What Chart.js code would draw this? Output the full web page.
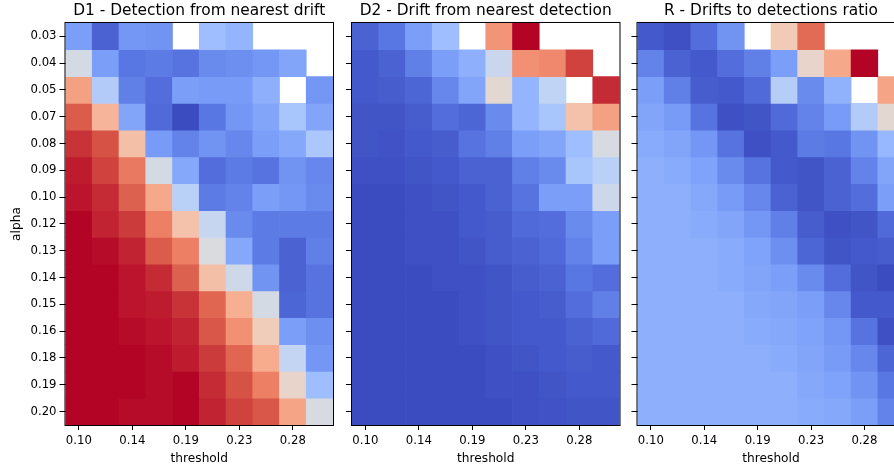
<!DOCTYPE html>
<html>
<head>
<meta charset="utf-8">
<script src="https://cdn.jsdelivr.net/npm/chart.js@4.4.0/dist/chart.umd.min.js"></script>
<style>
  html, body { margin: 0; padding: 0; background: #fff; overflow: hidden; width: 894px; height: 470px; }
  canvas { position: absolute; left: 0; top: 0; }
</style>
</head>
<body>
<canvas id="c1" width="894" height="470"></canvas>
<canvas id="c2" width="894" height="470"></canvas>
<canvas id="c3" width="920" height="470"></canvas>
<script>
// --- data ---
const alphaLabels = ["0.03", "0.04", "0.05", "0.07", "0.08", "0.09", "0.10", "0.12",
                     "0.13", "0.14", "0.15", "0.16", "0.18", "0.19", "0.20"];
const thresholdLabels = ["0.10", "0.12", "0.14", "0.17", "0.19", "0.21", "0.23", "0.26", "0.28", "0.30"];

// D1 - detection from nearest drift (null = no value)
const d1Values = [
  [0.20, 0.05, 0.18, 0.17, null, 0.30, 0.27, null, null, null],
  [0.47, 0.20, 0.10, 0.11, 0.09, 0.15, 0.16, 0.18, 0.22, null],
  [0.73, 0.36, 0.12, 0.08, 0.20, 0.19, 0.19, 0.25, null, 0.18],
  [0.88, 0.67, 0.22, 0.07, 0.00, 0.10, 0.18, 0.22, 0.33, 0.22],
  [0.94, 0.90, 0.64, 0.19, 0.13, 0.17, 0.14, 0.20, 0.23, 0.34],
  [0.97, 0.92, 0.82, 0.47, 0.23, 0.08, 0.11, 0.09, 0.17, 0.14],
  [0.98, 0.95, 0.87, 0.71, 0.38, 0.11, 0.13, 0.20, 0.18, 0.15],
  [1.00, 0.96, 0.93, 0.81, 0.63, 0.42, 0.15, 0.11, 0.11, 0.11],
  [1.00, 0.99, 0.96, 0.88, 0.81, 0.49, 0.23, 0.11, 0.05, 0.12],
  [1.00, 1.00, 0.98, 0.95, 0.87, 0.64, 0.45, 0.17, 0.05, 0.09],
  [1.00, 1.00, 0.98, 0.97, 0.94, 0.86, 0.69, 0.47, 0.06, 0.09],
  [1.00, 1.00, 0.99, 0.98, 0.96, 0.89, 0.77, 0.59, 0.20, 0.16],
  [1.00, 1.00, 1.00, 0.99, 0.97, 0.93, 0.86, 0.70, 0.41, 0.18],
  [1.00, 1.00, 1.00, 0.99, 1.00, 0.95, 0.90, 0.81, 0.55, 0.30],
  [1.00, 1.00, 0.99, 0.99, 1.00, 0.96, 0.92, 0.89, 0.72, 0.48]
];

// D2 - drift from nearest detection
const d2Values = [
  [0.05, 0.10, 0.20, 0.30, null, 0.76, 1.00, null, null, null],
  [0.03, 0.05, 0.12, 0.20, 0.25, 0.43, 0.77, 0.79, 0.92, null],
  [0.03, 0.04, 0.06, 0.14, 0.22, 0.53, 0.27, 0.40, null, 0.95],
  [0.02, 0.02, 0.04, 0.08, 0.06, 0.15, 0.27, 0.33, 0.63, 0.73],
  [0.02, 0.015, 0.03, 0.04, 0.09, 0.12, 0.20, 0.22, 0.30, 0.48],
  [0.01, 0.01, 0.02, 0.03, 0.05, 0.05, 0.12, 0.15, 0.33, 0.38],
  [0.00, 0.00, 0.01, 0.02, 0.03, 0.05, 0.09, 0.20, 0.20, 0.44],
  [0.00, 0.00, 0.01, 0.01, 0.03, 0.04, 0.07, 0.08, 0.15, 0.20],
  [0.00, 0.00, 0.01, 0.01, 0.02, 0.04, 0.05, 0.07, 0.13, 0.20],
  [0.00, 0.00, 0.00, 0.01, 0.01, 0.02, 0.04, 0.05, 0.10, 0.08],
  [0.00, 0.00, 0.00, 0.00, 0.01, 0.02, 0.03, 0.04, 0.08, 0.12],
  [0.00, 0.00, 0.00, 0.00, 0.01, 0.02, 0.03, 0.03, 0.05, 0.07],
  [0.00, 0.00, 0.00, 0.00, 0.00, 0.01, 0.02, 0.03, 0.04, 0.03],
  [0.00, 0.00, 0.00, 0.00, 0.00, 0.01, 0.01, 0.02, 0.03, 0.03],
  [0.00, 0.00, 0.00, 0.00, 0.00, 0.00, 0.01, 0.015, 0.02, 0.02]
];

// R - drifts to detections ratio
const rValues = [
  [0.03, 0.01, 0.08, 0.17, null, 0.60, 0.85, null, null, null],
  [0.13, 0.05, 0.03, 0.08, 0.12, 0.20, 0.55, 0.71, 1.00, null],
  [0.20, 0.12, 0.04, 0.03, 0.07, 0.37, 0.15, 0.26, null, 0.72],
  [0.22, 0.19, 0.09, 0.01, 0.02, 0.07, 0.13, 0.19, 0.36, 0.53],
  [0.24, 0.22, 0.18, 0.09, 0.01, 0.03, 0.11, 0.10, 0.17, 0.28],
  [0.25, 0.24, 0.21, 0.15, 0.09, 0.03, 0.02, 0.05, 0.13, 0.22],
  [0.25, 0.25, 0.23, 0.19, 0.14, 0.05, 0.02, 0.05, 0.08, 0.20],
  [0.25, 0.25, 0.24, 0.22, 0.18, 0.12, 0.04, 0.01, 0.02, 0.07],
  [0.25, 0.25, 0.25, 0.24, 0.21, 0.16, 0.06, 0.02, 0.03, 0.04],
  [0.25, 0.25, 0.25, 0.24, 0.22, 0.20, 0.15, 0.08, 0.02, 0.00],
  [0.25, 0.25, 0.25, 0.25, 0.23, 0.22, 0.20, 0.14, 0.03, 0.03],
  [0.25, 0.25, 0.25, 0.25, 0.24, 0.23, 0.21, 0.18, 0.09, 0.01],
  [0.25, 0.25, 0.25, 0.25, 0.25, 0.24, 0.22, 0.19, 0.14, 0.06],
  [0.25, 0.25, 0.25, 0.25, 0.25, 0.25, 0.23, 0.21, 0.17, 0.10],
  [0.25, 0.25, 0.25, 0.25, 0.25, 0.25, 0.24, 0.23, 0.20, 0.13]
];

// --- coolwarm colormap ---
const coolwarmStops = ["#3b4cc0", "#5977e3", "#7b9ff9", "#9ebeff", "#c0d4f5", "#dddcdc",
                       "#f2cbb7", "#f7ac8e", "#ee8468", "#d65244", "#b40426"];

const hexToRgb = (h) => [1, 3, 5].map(i => parseInt(h.slice(i, i + 2), 16));

const coolwarm = (t) => {
    t = Math.max(0, Math.min(1, t));
    var pos = t * (coolwarmStops.length - 1);
    var i = Math.min(Math.floor(pos), coolwarmStops.length - 2);
    var f = pos - i;
    var a = hexToRgb(coolwarmStops[i]), b = hexToRgb(coolwarmStops[i + 1]);
    var c = a.map((v, k) => Math.round(v + (b[k] - v) * f));
    return "rgb(" + c.join(",") + ")";
};

Chart.defaults.font.family = "'DejaVu Sans', sans-serif";
Chart.defaults.color = "#000";

const tickFont = { size: 11.7 };
const labelFont = { size: 12.2 };

// black frame round each panel
const spines = {
    id: "spines",
    afterDraw(chart) {
        const { ctx, chartArea: a } = chart;
        ctx.save();
        ctx.strokeStyle = "#000";
        ctx.lineWidth = 1;
        ctx.strokeRect(a.left - 0.5, a.top - 0.5, a.right - a.left + 1, a.bottom - a.top + 1);
        ctx.restore();
    }
};

const makePanel = (id, title, values, pad, yWidth, showY) => {
    const flat = values.flat().filter(v => v !== null);
    const vmin = Math.min(...flat), vmax = Math.max(...flat);

    // one stacked dataset per alpha row, one unit tall
    const datasets = alphaLabels.map((a, r) => ({
        label: a,
        data: thresholdLabels.map(() => 1),
        backgroundColor: values[r].map(v => v === null ? "rgba(0,0,0,0)" : coolwarm((v - vmin) / (vmax - vmin))),
        borderWidth: 0,
        barPercentage: 1,
        categoryPercentage: 1
    }));

    return new Chart(document.getElementById(id), {
        type: "bar",
        data: { labels: thresholdLabels, datasets: datasets },
        plugins: [spines],
        options: {
            responsive: false,
            animation: false,
            layout: { padding: pad },
            plugins: {
                legend: { display: false },
                tooltip: { enabled: false },
                title: {
                    display: true, text: title, fullSize: false, color: "#000",
                    font: { size: 15.4, weight: "normal" },
                    padding: { top: 2, bottom: 2.5 }
                }
            },
            scales: {
                x: {
                    type: "category", stacked: true, offset: true,
                    grid: {
                        offset: false, drawOnChartArea: false, tickLength: 5,
                        color: (c) => c.index % 2 ? "rgba(0,0,0,0)" : "#000"
                    },
                    border: { display: false },
                    ticks: {
                        autoSkip: false, maxRotation: 0, padding: 4, color: "#000",
                        font: tickFont,
                        callback: (v, i) => i % 2 ? "" : thresholdLabels[i]
                    },
                    title: {
                        display: true, text: "threshold", color: "#000",
                        font: labelFont, padding: { top: 0, bottom: 4 }
                    },
                    afterFit: (s) => { s.height = 45; }
                },
                y: {
                    type: "linear", min: 0, max: alphaLabels.length, reverse: true, stacked: true,
                    afterBuildTicks: (s) => { s.ticks = alphaLabels.map((a, i) => ({ value: i + 0.5 })); },
                    grid: { drawOnChartArea: false, tickLength: 6, color: "#000" },
                    border: { display: false },
                    ticks: {
                        autoSkip: false, padding: 3, color: "#000",
                        font: tickFont,
                        callback: (v, i) => showY ? alphaLabels[i] : ""
                    },
                    title: {
                        display: showY, text: "alpha", color: "#000",
                        font: labelFont, padding: { top: 9.5, bottom: 0 }
                    },
                    afterFit: (s) => { s.width = yWidth; }
                }
            }
        }
    });
};

makePanel("c1", "D1 - Detection from nearest drift", d1Values,
    { left: 0, right: 561, top: 0, bottom: 0 }, 65.5, true);
makePanel("c2", "D2 - Drift from nearest detection", d2Values,
    { left: 344, right: 274.5, top: 0, bottom: 0 }, 8, false);
makePanel("c3", "R - Drifts to detections ratio", rValues,
    { left: 629.5, right: 15.5, top: 0, bottom: 0 }, 8, false);
</script>
</body>
</html>
